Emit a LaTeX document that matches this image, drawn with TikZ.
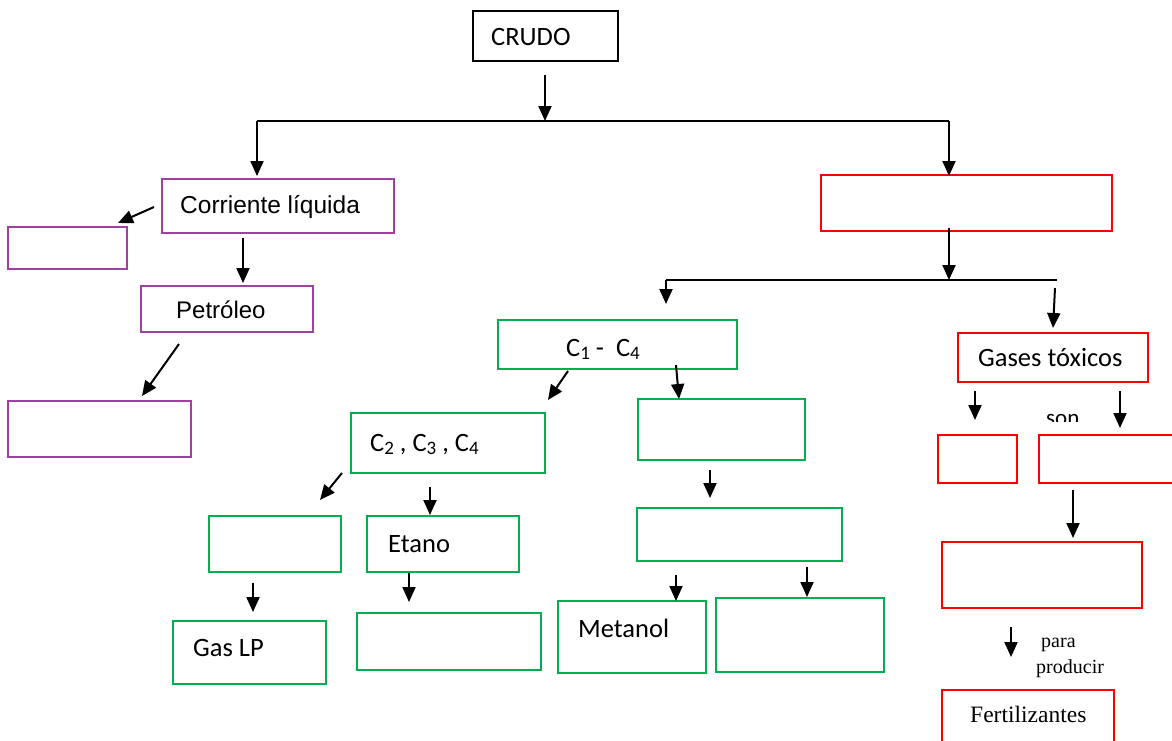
\documentclass[tikz,border=0pt]{standalone}
\usepackage{fontspec}
\setmainfont{Carlito}
\newfontfamily\arialfont{Liberation Sans}
\newfontfamily\romanfont{Liberation Serif}
\usetikzlibrary{arrows.meta}
\definecolor{boxpurple}{RGB}{160,64,160}
\definecolor{boxgreen}{RGB}{0,176,80}
\definecolor{boxred}{RGB}{255,0,0}
\tikzset{
  box/.style={draw, line width=1.6pt, inner sep=0pt, outer sep=0pt},
  lbl/.style={inner sep=0pt, anchor=base west, font=\fontsize{26.5}{31}\selectfont},
  arr/.style={-{Triangle[length=15pt,width=13pt]}, line width=2pt},
  link/.style={line width=2pt}
}
% \mybox{name}{x1}{y1}{x2}{y2}{colour}
\newcommand\mybox[6]{\node[box, draw=#6, minimum width={#4-#2}, minimum height={#5-#3}] (#1) at ({(#2+#4)/2},{(#3+#5)/2}) {};}
\newcommand\sub[1]{\raisebox{-0.12em}{\fontsize{19}{20}\selectfont #1}}
\begin{document}
\begin{tikzpicture}[x=1pt,y=-1pt]
\useasboundingbox (0,0) rectangle (1172,740);
\clip (0,0) rectangle (1172,740);
\fill[white] (0,0) rectangle (1172,740);

% top
\mybox{crudo}{473}{11}{618}{61}{black}
\node[lbl] (t-crudo) at (491,45) {CRUDO};
\coordinate (split1) at (545,121);
\coordinate (split1-l) at (257,121);
\coordinate (split1-r) at (949,121);
\draw[arr] (545,75) -- (split1);
\draw[link] (split1-l) -- (split1-r);

% liquid stream branch
\mybox{liq}{162}{179}{394}{233}{boxpurple}
\node[lbl, font=\arialfont\fontsize{24.5}{30}\selectfont] (t-liq) at (180,213) {Corriente líquida};
\mybox{liq-a}{8}{227}{127}{269}{boxpurple}
\mybox{petro}{141}{286}{313}{332}{boxpurple}
\node[lbl, font=\arialfont\fontsize{24}{30}\selectfont] (t-petro) at (176,318) {Petróleo};
\mybox{petro-a}{8}{401}{191}{457}{boxpurple}
\draw[arr] (split1-l) -- (257,176);
\draw[arr] (154,207) -- (118,223);
\draw[arr] (243,238) -- (243,283);
\draw[arr] (179,344) -- (142,396);

% gas stream branch
\mybox{gas}{821}{175}{1112}{231}{boxred}
\draw[arr] (split1-r) -- (949,176);
\coordinate (split2) at (949,280);
\coordinate (split2-l) at (666,280);
\coordinate (split2-r) at (1057,280);
\draw[arr] (949,228) -- (split2);
\draw[link] (split2-l) -- (split2-r);
\draw[arr] (split2-l) -- (666,304);
\draw[arr] (1055,288) -- (1053,328);

% light hydrocarbons
\mybox{c14}{498}{320}{737}{369}{boxgreen}
\node[lbl] (t-c14) at (566,356) {C\sub{1} -\ \ C\sub{4}};
\mybox{c234}{351}{413}{545}{473}{boxgreen}
\node[lbl] (t-c234) at (370,451) {C\sub{2}\ , C\sub{3}\ ,\ C\sub{4}};
\mybox{c1}{638}{399}{805}{460}{boxgreen}
\draw[arr] (568,371) -- (548,400);
\draw[arr] (676,365) -- (679,399);

\mybox{c3c4}{209}{516}{341}{572}{boxgreen}
\mybox{etano}{367}{516}{519}{572}{boxgreen}
\node[lbl] (t-etano) at (388,552) {Etano};
\draw[arr] (342,473) -- (320,500);
\draw[arr] (430,487) -- (430,515);

\mybox{gaslp}{173}{621}{326}{684}{boxgreen}
\node[lbl] (t-gaslp) at (193,656) {Gas LP};
\mybox{etano-a}{357}{613}{541}{670}{boxgreen}
\draw[arr] (253,583) -- (253,612);
\draw[arr] (409,573) -- (409,602);

\mybox{c1-a}{637}{508}{842}{561}{boxgreen}
\draw[arr] (710,470) -- (710,498);
\mybox{metanol}{558}{601}{706}{673}{boxgreen}
\node[lbl] (t-metanol) at (578,637) {Metanol};
\mybox{c1-b}{716}{598}{884}{672}{boxgreen}
\draw[arr] (676,575) -- (676,601);
\draw[arr] (807,567) -- (807,597);

% toxic gases
\mybox{tox}{958}{333}{1148}{382}{boxred}
\node[lbl] (t-tox) at (978,366) {Gases tóxicos};
\draw[arr] (975,391) -- (975,420);
\draw[arr] (1120,391) -- (1120,428);
\begin{scope}
  \clip (1030,395) rectangle (1100,421);
  \node[lbl, font=\fontsize{23}{27}\selectfont] (t-son) at (1046,425) {son};
\end{scope}
\mybox{tox-a}{938}{435}{1017}{483}{boxred}
\mybox{tox-b}{1039}{435}{1190}{483}{boxred}
\draw[arr] (1073,490) -- (1073,538);
\mybox{tox-c}{942}{542}{1142}{608}{boxred}
\draw[arr] (1011,627) -- (1011,657);
\node[lbl, font=\romanfont\fontsize{20}{24}\selectfont] (t-para) at (1041,647) {para};
\node[lbl, font=\romanfont\fontsize{20}{24}\selectfont] (t-producir) at (1036,673) {producir};
\mybox{fert}{942}{690}{1114}{760}{boxred}
\node[lbl, font=\romanfont\fontsize{23.5}{28}\selectfont] (t-fert) at (970,722) {Fertilizantes};
\end{tikzpicture}
\end{document}
